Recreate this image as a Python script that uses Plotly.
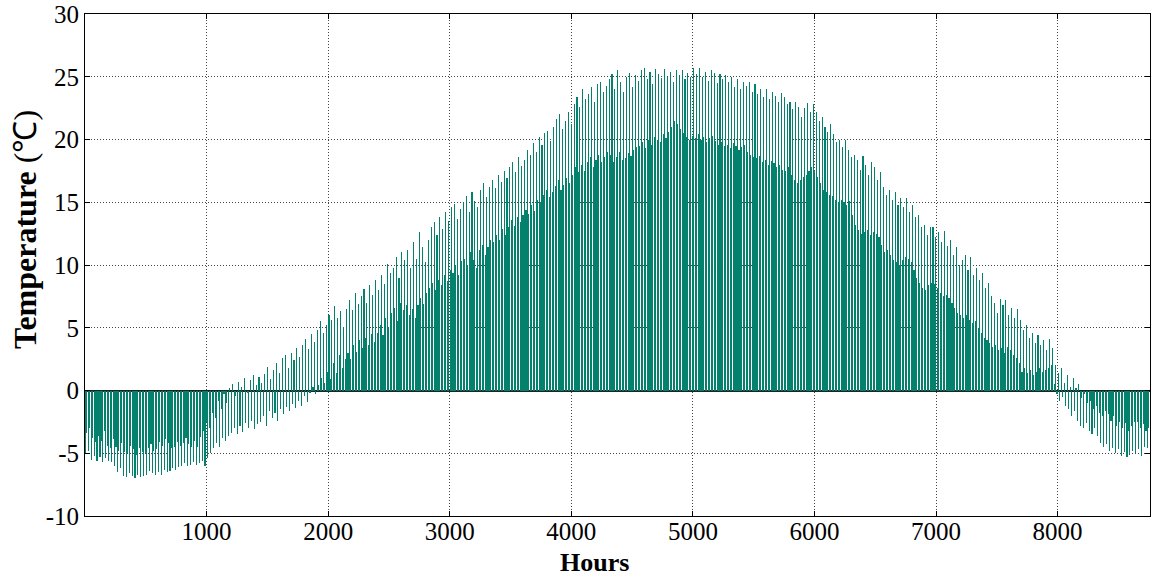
import plotly.graph_objects as go

# Daily maximum temperature (°C), one value per day of the year (365 days)
daily_high = [
    -3.4, -3.0, -3.8, -4.1, -3.6, -4.0, -3.2, -4.4, -4.6, -3.9,
    -4.5, -4.8, -4.2, -4.9, -5.0, -4.4, -4.7, -5.1, -4.6, -4.9,
    -5.0, -4.6, -4.3, -4.8, -4.7, -4.1, -4.4, -3.9, -4.2, -4.6,
    -4.5, -4.1, -4.4, -4.2, -3.8, -4.3, -4.5, -4.0, -4.5, -3.7,
    -3.2, -2.5, -3.0, -1.8, -2.2, -0.8, -1.5, -0.3, -1.0, 0.2,
    0.5, -0.4, 0.7, 0.3, 1.0, -0.2, 0.8, 1.2, 0.4, 1.1,
    0.6, 1.3, 1.9, 0.9, 1.6, 2.2, 1.4, 2.6, 2.8, 1.8,
    3.0, 2.4, 3.4, 2.7, 3.6, 4.1, 3.3, 4.5, 3.9, 4.8,
    5.5, 4.6, 5.2, 6.0, 5.6, 6.7, 5.8, 6.3, 5.1, 6.5,
    7.2, 6.4, 7.8, 6.9, 7.5, 8.1, 7.0, 8.4, 7.6, 8.8,
    8.0, 9.2, 8.5, 10.1, 9.4, 9.8, 10.6, 9.0, 11.0, 10.4,
    11.2, 9.8, 11.8, 10.5, 12.6, 11.4, 10.2, 12.0, 13.0, 13.4,
    12.4, 13.8, 12.9, 14.2, 13.5, 14.6, 14.9, 13.7, 14.5, 15.0,
    15.5, 14.2, 15.8, 15.1, 14.6, 16.0, 16.5, 15.4, 16.2, 16.8,
    16.1, 17.2, 16.6, 17.5, 16.9, 17.8, 18.2, 17.4, 18.6, 17.9,
    18.4, 19.2, 18.8, 19.7, 19.0, 20.2, 19.6, 20.5, 20.7, 19.9,
    21.0, 21.6, 22.0, 20.8, 21.5, 22.2, 21.2, 22.8, 23.4, 22.6,
    24.0, 23.2, 23.6, 24.2, 23.0, 24.4, 24.6, 23.8, 24.3, 24.8,
    25.2, 24.0, 25.5, 24.6, 23.8, 25.0, 25.3, 24.2, 25.1, 24.7,
    25.5, 25.7, 24.8, 25.4, 24.4, 25.6, 25.2, 24.9, 25.6, 25.0,
    25.4, 24.6, 25.5, 25.1, 25.5, 24.8, 25.3, 25.0, 25.7, 25.2,
    25.7, 25.0, 25.4, 24.7, 25.5, 25.3, 24.5, 25.2, 24.8, 25.1,
    24.6, 25.0, 24.2, 24.8, 24.0, 24.6, 24.3, 24.6, 23.8, 24.4,
    23.6, 24.0, 23.4, 24.0, 23.2, 23.8, 23.5, 23.0, 23.7, 23.4,
    22.8, 23.0, 22.4, 23.0, 22.6, 21.8, 22.5, 22.9, 22.2, 22.8,
    22.2, 21.5, 21.8, 21.0, 20.6, 21.2, 20.4, 19.8, 20.0, 19.4,
    20.0, 19.2, 18.6, 18.8, 18.4, 17.6, 18.7, 18.0, 17.2, 18.2,
    17.8, 16.8, 17.4, 16.2, 15.6, 16.0, 15.2, 15.8, 14.8, 15.3,
    14.6, 15.3, 14.2, 14.8, 13.8, 14.0, 13.0, 13.2, 12.4, 13.0,
    13.0, 12.2, 12.6, 11.8, 12.7, 11.5, 12.0, 10.8, 11.4, 10.0,
    10.4, 10.8, 9.6, 10.6, 9.2, 9.8, 8.8, 9.4, 8.2, 8.6,
    7.5, 7.0, 6.2, 7.3, 6.8, 7.2, 6.0, 6.6, 5.8, 6.5,
    5.6, 4.8, 5.2, 4.2, 4.6, 3.8, 4.4, 3.6, 4.0, 3.2,
    4.1, 3.4, 2.0, 1.4, 1.8, 0.6, 1.2, 0.3, 1.0, 0.2,
    0.5, -0.6, -0.3, -1.0, -0.8, -1.5, -1.2, -1.8, -2.0, -1.6,
    -1.9, -2.4, -2.0, -2.8, -2.5, -3.0, -2.6, -3.2, -2.8, -2.5,
    -2.5, -3.0, -2.7, -3.2, -3.0,
]

# Daily minimum temperature (°C), one value per day of the year (365 days)
daily_low = [
    -5.0, -4.8, -5.5, -5.2, -5.6, -5.3, -5.7, -5.4, -5.6, -5.7,
    -6.0, -6.5, -6.2, -6.8, -6.9, -6.6, -6.8, -7.0, -6.7, -6.9,
    -6.8, -6.7, -6.4, -6.6, -6.7, -6.5, -6.7, -6.3, -6.5, -6.4,
    -6.2, -6.3, -6.1, -6.0, -5.8, -6.0, -5.9, -5.7, -5.9, -5.8,
    -5.6, -6.0, -5.4, -5.0, -4.6, -4.2, -4.5, -3.8, -4.0, -3.6,
    -3.4, -3.0, -3.5, -2.8, -3.3, -2.6, -3.0, -2.4, -3.1, -2.7,
    -2.5, -2.0, -2.8, -1.6, -2.2, -1.8, -2.4, -1.5, -1.9, -1.3,
    -1.6, -1.1, -1.4, -0.8, -1.2, -0.4, -0.9, -0.2, 0.3, -0.3,
    0.4, 1.0, 0.6, 1.5, 0.9, 2.2, 1.4, 2.8, 1.8, 2.5,
    3.0, 2.5, 3.6, 3.1, 4.0, 3.4, 4.2, 3.6, 4.5, 3.9,
    4.6, 5.2, 4.4, 5.8, 5.1, 6.2, 6.6, 5.5, 7.0, 6.4,
    6.8, 6.0, 6.5, 5.8, 6.8, 7.4, 6.9, 7.8, 8.2, 8.6,
    8.0, 8.8, 8.4, 9.2, 8.7, 9.6, 9.4, 10.0, 9.2, 10.3,
    10.5, 10.0, 11.0, 10.4, 9.8, 11.2, 11.6, 10.8, 11.4, 12.0,
    11.8, 12.4, 12.0, 12.9, 12.4, 13.0, 13.6, 13.1, 13.8, 13.4,
    14.0, 14.4, 14.1, 14.8, 14.3, 15.2, 15.0, 15.6, 16.0, 15.4,
    15.8, 16.3, 16.8, 16.0, 16.4, 16.9, 16.5, 17.2, 17.8, 17.4,
    18.0, 17.5, 18.2, 18.6, 17.8, 18.4, 18.8, 18.2, 18.6, 19.0,
    18.8, 18.2, 18.6, 19.0, 18.4, 18.5, 18.9, 18.7, 19.2, 19.4,
    19.5, 19.8, 19.3, 20.0, 19.6, 20.2, 20.0, 19.8, 20.4, 20.1,
    20.6, 21.0, 21.5, 21.2, 20.8, 20.5, 20.2, 20.0, 20.3, 20.1,
    20.4, 20.0, 20.2, 19.8, 20.1, 20.3, 19.9, 19.6, 19.8, 19.5,
    19.6, 19.3, 19.7, 19.5, 19.2, 19.4, 19.6, 19.0, 18.8, 18.6,
    18.5, 18.7, 18.2, 18.4, 18.0, 18.3, 18.1, 17.8, 18.0, 17.6,
    17.5, 17.8, 17.2, 16.8, 16.5, 16.8, 17.0, 17.2, 17.5, 17.8,
    17.5, 17.0, 16.5, 16.0, 15.8, 15.6, 15.5, 15.2, 15.0, 15.2,
    15.0, 14.8, 15.1, 14.0, 13.2, 12.8, 12.5, 12.6, 12.8, 12.4,
    12.6, 12.5, 12.2, 11.6, 11.0, 11.2, 10.8, 10.4, 10.2, 10.0,
    10.4, 10.6, 10.5, 10.2, 9.6, 9.0, 8.6, 8.2, 8.0, 8.4,
    8.6, 8.5, 8.2, 7.8, 7.5, 7.6, 7.4, 7.0, 6.6, 6.2,
    6.0, 5.8, 6.0, 5.6, 5.4, 5.5, 5.0, 4.6, 4.2, 4.0,
    3.8, 3.5, 3.6, 3.2, 3.4, 3.0, 3.5, 3.2, 2.8, 2.6,
    2.2, 1.5, 1.8, 1.4, 1.6, 1.2, 1.5, 1.8, 1.5, 1.6,
    1.8, 2.0, 0.5, -0.3, -0.8, -0.5, -1.2, -1.5, -2.0, -1.6,
    -2.4, -2.8, -3.0, -2.6, -3.2, -3.5, -3.0, -3.6, -4.2, -4.5,
    -4.3, -4.8, -4.6, -5.0, -4.7, -5.2, -4.9, -5.3, -5.1, -4.8,
    -5.0, -4.7, -5.2, -4.5, -4.6,
]

x_ticks = [1000, 2000, 3000, 4000, 5000, 6000, 7000, 8000]
y_ticks = [-10, -5, 0, 5, 10, 15, 20, 25, 30]

HOURS_PER_DAY = 24
LOW_HOUR = 3     # hour of day at which the minimum is plotted
HIGH_HOUR = 15   # hour of day at which the maximum is plotted

x_vals = []
y_vals = []
for d, (hi, lo) in enumerate(zip(daily_high, daily_low)):
    x_vals.append(d * HOURS_PER_DAY + LOW_HOUR)
    y_vals.append(lo)
    x_vals.append(d * HOURS_PER_DAY + HIGH_HOUR)
    y_vals.append(hi)

bar_color = "rgba(0,128,106,0.99)"
font_family = "Liberation Serif, Times New Roman, serif"

W, H = 1151, 577
ML, MR, MT, MB = 85, 1, 14, 61
PW, PH = W - ML - MR, H - MT - MB

fig = go.Figure()
fig.add_trace(go.Bar(
    x=x_vals, y=y_vals, width=9,
    marker=dict(color=bar_color, line=dict(width=0)),
    showlegend=False,
))

fig.update_layout(
    width=W, height=H,
    margin=dict(l=ML, r=MR, t=MT, b=MB, autoexpand=False),
    paper_bgcolor="white", plot_bgcolor="white",
    bargap=0,
    font=dict(family=font_family, size=25, color="black"),
    annotations=[
        dict(text="<b>Hours</b>", xref="paper", yref="paper",
             x=(594 - ML) / PW, y=-(562 - MT - PH) / PH,
             xanchor="center", yanchor="middle", showarrow=False,
             font=dict(family=font_family, size=26, color="black")),
        dict(text="<b>Temperature</b> (℃)", xref="paper", yref="paper",
             x=-(ML - 25) / PW, y=1 - (230 - MT) / PH,
             xanchor="center", yanchor="middle", showarrow=False, textangle=-90,
             font=dict(family=font_family, size=32, color="black")),
    ],
)

fig.update_xaxes(
    range=[0, 8760], tickvals=x_ticks, ticktext=[str(v) for v in x_ticks],
    showgrid=True, gridcolor="#444444", griddash="1px,2px", gridwidth=1,
    showline=True, linecolor="black", linewidth=1, mirror="ticks",
    ticks="inside", ticklen=5, tickcolor="black",
    zeroline=False, automargin=False,
    ticklabelstandoff=-7,
    tickfont=dict(family=font_family, size=25),
)
fig.update_yaxes(
    range=[-10, 30], tickvals=y_ticks, ticktext=[str(v) for v in y_ticks],
    showgrid=True, gridcolor="#444444", griddash="1px,2px", gridwidth=1,
    showline=True, linecolor="black", linewidth=1, mirror="ticks",
    ticks="inside", ticklen=5, tickcolor="black",
    zeroline=True, zerolinecolor="#222222", zerolinewidth=1.5,
    automargin=False,
    tickfont=dict(family=font_family, size=25),
)

fig.write_html("out.html", config={"displayModeBar": False},
               post_script="document.body.style.margin='0';")
